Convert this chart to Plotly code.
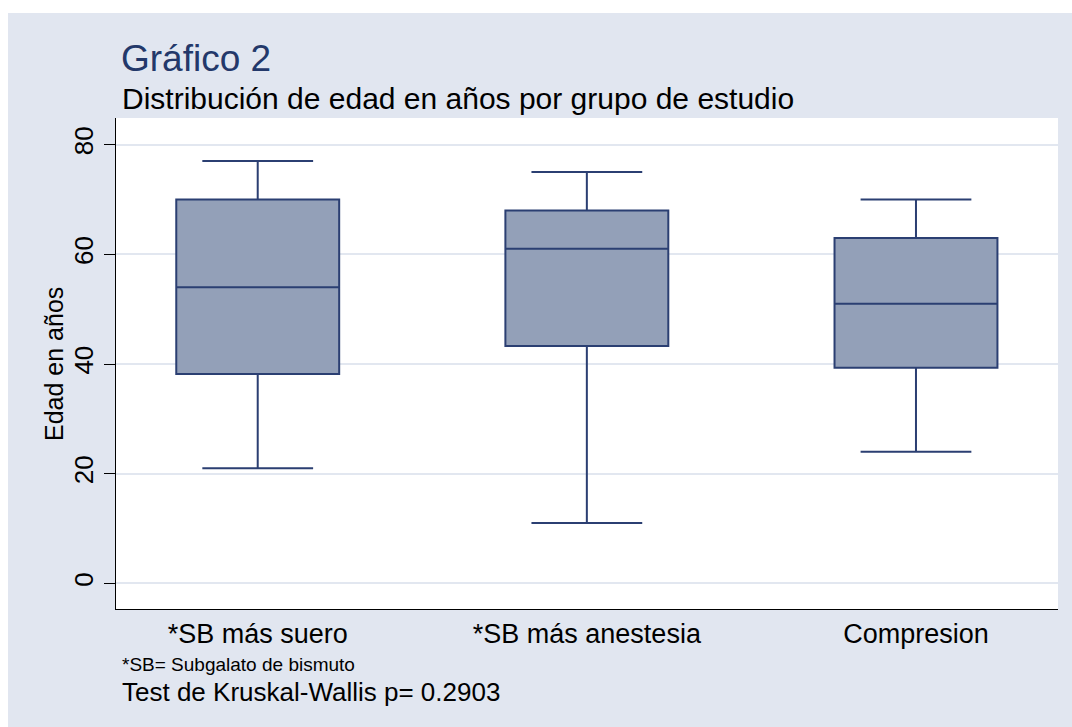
import plotly.graph_objects as go

# Box statistics of age (years) per study group
grupos = ["*SB más suero", "*SB más anestesia", "Compresion"]
minimo = [21, 11, 24]
q1 = [38.2, 43.3, 39.3]
mediana = [54, 61, 51]
q3 = [70, 68, 63]
maximo = [77, 75, 70]

y_ticks = [0, 20, 40, 60, 80]

W, H = 1072, 727
L, R, T, B = 116, 14, 118, 118
PW, PH = W - L - R, H - T - B

FONT = "Liberation Sans, Arial, sans-serif"
BG = "#e1e6f0"
FILL = "#93a0b8"
EDGE = "#2b3f72"


def px(x):
    return (x - L) / PW


def py(y):
    return (H - B - y) / PH


fig = go.Figure()
fig.add_trace(go.Box(
    x=grupos,
    q1=q1,
    median=mediana,
    q3=q3,
    lowerfence=minimo,
    upperfence=maximo,
    fillcolor=FILL,
    line=dict(color=EDGE, width=2),
    width=0.495,
    whiskerwidth=0.68,
    boxpoints=False,
    showlegend=False,
))

shapes = [
    # outer graph region
    dict(type="rect", xref="paper", yref="paper", layer="below",
         x0=px(8), x1=px(W + 10), y0=py(H + 10), y1=py(13),
         fillcolor=BG, line=dict(width=0)),
    # plot region
    dict(type="rect", xref="paper", yref="paper", layer="below",
         x0=0, x1=1, y0=0, y1=1, fillcolor="white", line=dict(width=0)),
]

annotations = [
    dict(text="Gráfico 2", x=px(119), y=py(59), xanchor="left", yanchor="middle",
         font=dict(size=37, color="#23386a", family=FONT)),
    dict(text="Distribución de edad en años por grupo de estudio", x=px(120), y=py(99),
         xanchor="left", yanchor="middle", font=dict(size=30, color="black", family=FONT)),
    dict(text="Edad en años", x=px(54), y=py(364), xanchor="center", yanchor="middle",
         textangle=-90, font=dict(size=25, color="black", family=FONT)),
    dict(text="*SB= Subgalato de bismuto", x=px(120), y=py(664), xanchor="left",
         yanchor="middle", font=dict(size=19, color="black", family=FONT)),
    dict(text="Test de Kruskal-Wallis p= 0.2903", x=px(120), y=py(692), xanchor="left",
         yanchor="middle", font=dict(size=26, color="black", family=FONT)),
]
for a in annotations:
    a.update(xref="paper", yref="paper", showarrow=False)

fig.update_layout(
    width=W, height=H,
    margin=dict(l=L, r=R, t=T, b=B, pad=0),
    paper_bgcolor="white",
    plot_bgcolor="rgba(0,0,0,0)",
    shapes=shapes,
    annotations=annotations,
    font=dict(family=FONT, color="black"),
    xaxis=dict(
        type="category",
        range=[-0.4306, 2.4315],
        showgrid=False, zeroline=False,
        showline=True, linecolor="black", linewidth=1.3,
        ticks="", tickfont=dict(size=27, color="black"),
        ticklabelstandoff=0,
    ),
    yaxis=dict(
        range=[-4.67, 84.86],
        tickvals=y_ticks,
        tickangle=-90,
        showgrid=True, gridcolor="#e2e7f0", gridwidth=2,
        zeroline=False,
        showline=True, linecolor="black", linewidth=1.3,
        ticks="outside", ticklen=11, tickcolor="black", tickwidth=1,
        tickfont=dict(size=26, color="black"),
        ticklabelstandoff=0,
    ),
)

fig.write_html("out.html")
